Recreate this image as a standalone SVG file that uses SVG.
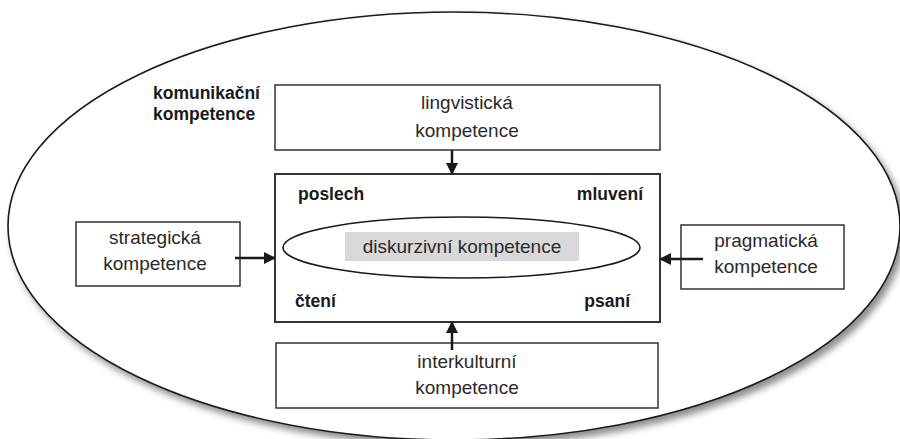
<svg xmlns="http://www.w3.org/2000/svg" width="900" height="439" viewBox="0 0 900 439">
  <defs>
    <filter id="shadow" x="-10%" y="-10%" width="120%" height="125%">
      <feDropShadow dx="4" dy="5" stdDeviation="3.5" flood-color="#000" flood-opacity="0.45"/>
    </filter>
    <marker id="arr" markerWidth="12" markerHeight="12" refX="11" refY="6" orient="auto" markerUnits="userSpaceOnUse">
      <path d="M0,0 L12,6 L0,12 Z" fill="#1a1a1a"/>
    </marker>
  </defs>
  <style>
    .box { fill: #fff; stroke: #333; stroke-width: 1.5; }
    .t { font-family: "Liberation Sans", Arial, sans-serif; font-size: 19px; fill: #2a2a2a; text-anchor: middle; }
    .b { font-family: "Liberation Sans", Arial, sans-serif; font-size: 17.5px; font-weight: bold; fill: #1a1a1a; }
    .conn { stroke: #1a1a1a; stroke-width: 2.5; fill: none; }
  </style>
  <rect width="900" height="439" fill="#fff"/>

  <g id="komunikacni">
    <ellipse cx="454" cy="226" rx="446" ry="214" fill="#fff" stroke="#1a1a1a" stroke-width="1.6" filter="url(#shadow)"/>
    <text class="b" x="153" y="99">komunikační</text>
    <text class="b" x="153" y="120">kompetence</text>
  </g>

  <g id="lingvisticka">
    <rect class="box" x="275" y="85" width="385" height="65"/>
    <text class="t" x="467" y="109">lingvistická</text>
    <text class="t" x="467" y="137">kompetence</text>
  </g>

  <g id="strategicka">
    <rect class="box" x="76" y="222" width="164" height="64"/>
    <text class="t" x="155" y="244">strategická</text>
    <text class="t" x="155" y="270">kompetence</text>
  </g>

  <g id="pragmaticka">
    <rect class="box" x="681" y="225" width="163" height="64"/>
    <text class="t" x="766" y="247">pragmatická</text>
    <text class="t" x="766" y="273">kompetence</text>
  </g>

  <g id="interkulturni">
    <rect class="box" x="276" y="343" width="382" height="65"/>
    <text class="t" x="467" y="368">interkulturní</text>
    <text class="t" x="467" y="394">kompetence</text>
  </g>

  <g id="jadro">
    <rect x="275" y="174" width="385" height="148" fill="#fff" stroke="#333" stroke-width="2"/>
    <text class="b" x="298" y="200">poslech</text>
    <text class="b" x="643" y="200" text-anchor="end">mluvení</text>
    <text class="b" x="295" y="307">čtení</text>
    <text class="b" x="630" y="307" text-anchor="end">psaní</text>
  </g>

  <g id="diskurzivni">
    <ellipse cx="461.5" cy="247.5" rx="178.5" ry="30.5" fill="#fff" stroke="#1a1a1a" stroke-width="1.6"/>
    <rect x="345" y="232" width="234" height="29" fill="#d9d9d9"/>
    <text class="t" x="462" y="253" fill="#3a3a3a">diskurzivní kompetence</text>
  </g>

  <g id="connectors">
    <line class="conn" x1="452" y1="150" x2="452" y2="174" marker-end="url(#arr)"/>
    <line class="conn" x1="452" y1="350" x2="452" y2="322" marker-end="url(#arr)"/>
    <line class="conn" x1="235" y1="258" x2="275" y2="258" marker-end="url(#arr)"/>
    <line class="conn" x1="703" y1="259" x2="660" y2="259" marker-end="url(#arr)"/>
  </g>
</svg>
